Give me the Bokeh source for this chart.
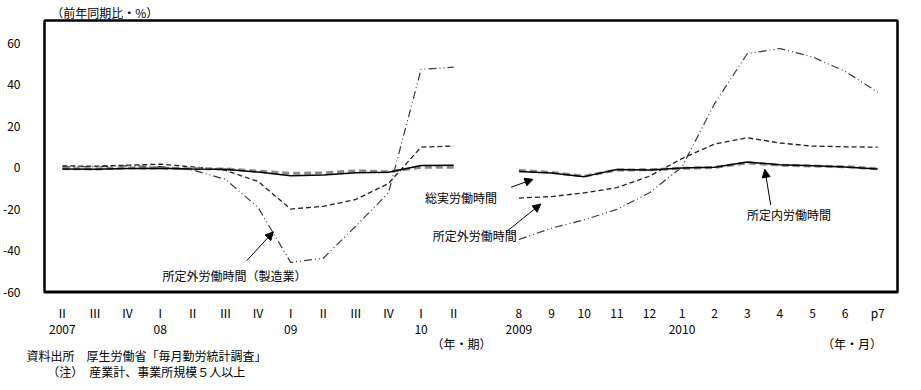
from bokeh.plotting import figure
from bokeh.models import (Range1d, FixedTicker, Label, Arrow, NormalHead, ColumnDataSource,
                          LinearAxis, Span)
from bokeh.embed import file_html
from bokeh.resources import INLINE

FONT = "Noto Sans CJK JP"

# ---- data ----
quarter_labels = ["Ⅱ", "Ⅲ", "Ⅳ", "Ⅰ", "Ⅱ", "Ⅲ", "Ⅳ", "Ⅰ", "Ⅱ", "Ⅲ", "Ⅳ", "Ⅰ", "Ⅱ"]
quarter_years = ["2007", "", "", "08", "", "", "", "09", "", "", "", "10", ""]
month_labels = ["8", "9", "10", "11", "12", "1", "2", "3", "4", "5", "6", "p7"]
month_years = ["2009", "", "", "", "", "2010", "", "", "", "", "", ""]

q_total = [-0.5, -0.7, -0.3, -0.2, -0.5, -0.6, -2.0, -3.8, -3.4, -2.3, -2.1, 1.2, 1.3]
q_sched = [-0.3, -0.5, 0.0, 0.0, -0.4, -0.5, -1.5, -2.6, -2.4, -1.4, -1.8, 0.3, 0.3]
q_over = [1.0, 0.8, 1.3, 1.8, 0.5, -1.2, -6.5, -19.8, -18.5, -15.2, -7.5, 10.0, 10.6]
q_mfg_over = [0.5, 0.6, 1.0, 0.6, -1.0, -5.5, -19.0, -45.5, -43.5, -28.0, -12.0, 47.5, 48.5]

m_total = [-1.7, -2.5, -4.2, -0.8, -1.0, 0.0, 0.3, 2.8, 1.5, 1.0, 0.5, -0.5]
m_sched = [-1.2, -2.2, -4.0, -1.0, -0.9, -0.2, 0.2, 2.4, 1.3, 0.9, 0.6, -0.4]
m_over = [-14.5, -13.8, -12.0, -9.5, -4.0, 4.5, 11.5, 14.5, 12.0, 10.5, 10.2, 10.0]
m_mfg_over = [-34.5, -29.0, -25.0, -20.0, -12.0, 0.5, 31.0, 55.0, 57.5, 53.5, 46.5, 36.5]

y_ticks = [-60, -40, -20, 0, 20, 40, 60]

y_title = "（前年同期比・%）"
unit_labels = ["（年・期）", "（年・月）"]
footer_lines = ["資料出所　厚生労働省「毎月勤労統計調査」", "（注）　産業計、事業所規模５人以上"]

# category positions (quarterly block, one-slot gap, monthly block)
q_x = list(range(len(quarter_labels)))
m_x = [len(quarter_labels) + 1 + i for i in range(len(month_labels))]

X0, X1, Y0, Y1 = -0.547, 25.607, -60, 71
p = figure(width=905, height=382, output_backend="svg", toolbar_location=None,
           x_range=Range1d(X0, X1), y_range=Range1d(Y0, Y1),
           x_axis_location=None,
           min_border_left=36, min_border_right=8, min_border_top=20, min_border_bottom=88)
p.background_fill_color = "white"
p.border_fill_color = "white"
p.outline_line_color = "black"
p.outline_line_width = 2
p.xgrid.visible = False
p.ygrid.visible = False

# bottom edge of the frame
p.add_layout(Span(location=Y0 + 0.45, dimension="width", line_color="black", line_width=2))

# y axis (its line is the left edge of the frame)
p.yaxis.ticker = FixedTicker(ticks=y_ticks)
p.yaxis.major_label_overrides = {t: str(t) for t in y_ticks}
p.yaxis.axis_line_color = "black"
p.yaxis.axis_line_width = 2
p.yaxis.major_tick_line_color = None
p.yaxis.minor_tick_line_color = None
p.yaxis.major_label_standoff = 18
p.yaxis.major_label_text_font = FONT
p.yaxis.major_label_text_font_size = "12px"
p.yaxis.major_label_text_color = "black"

def text_axis(side, ticks, labels, standoff, edge=False):
    ax = LinearAxis(ticker=FixedTicker(ticks=ticks),
                    major_label_overrides=dict(zip(ticks, labels)),
                    axis_line_color="black" if edge else None, axis_line_width=2,
                    major_tick_line_color=None, minor_tick_line_color=None,
                    major_tick_in=0, major_tick_out=0,
                    major_label_standoff=standoff, major_label_text_font=FONT,
                    major_label_text_font_size="12px", major_label_text_color="black")
    p.add_layout(ax, side)

# row 1: quarters / months
text_axis("below", q_x + m_x, quarter_labels + month_labels, 11)
# row 2: years
yr_ticks = [x for x, y in zip(q_x, quarter_years) if y] + [x for x, y in zip(m_x, month_years) if y]
yr_labels = [y for y in quarter_years if y] + [y for y in month_years if y]
text_axis("below", yr_ticks, yr_labels, 1)
# row 3: unit labels
text_axis("below", [12.24, 24.21], unit_labels, -2)
# footer lines
text_axis("below", [2.58], [footer_lines[0]], -8)
text_axis("below", [2.57], [footer_lines[1]], -4)
# y-axis title above the frame; its axis line is the top edge of the frame
text_axis("above", [1.3], [y_title], 0, edge=True)
# right edge of the frame
p.add_layout(LinearAxis(ticker=FixedTicker(ticks=[]), axis_line_color="black", axis_line_width=2,
                        major_tick_line_color=None, minor_tick_line_color=None,
                        major_tick_in=0, major_tick_out=0, major_label_standoff=0,
                        major_label_text_font_size="0px"), "right")

def draw(xs, total, sched, over, mfg):
    src = ColumnDataSource(dict(x=xs, total=total, sched=sched, over=over, mfg=mfg))
    p.line("x", "mfg", source=src, line_color="#3a3a3a", line_width=1.2, line_dash="8 3 1 3 1 3")
    p.line("x", "over", source=src, line_color="#222222", line_width=1.3, line_dash="5 3")
    p.line("x", "sched", source=src, line_color="#8a8a8a", line_width=3, line_dash="7 4")
    p.line("x", "total", source=src, line_color="black", line_width=1.5)

draw(q_x, q_total, q_sched, q_over, q_mfg_over)
draw(m_x, m_total, m_sched, m_over, m_mfg_over)

def lab(x, y, text):
    p.add_layout(Label(x=x, y=y, text=text, text_font=FONT, text_font_size="12px",
                       text_baseline="middle", text_align="left", text_color="black"))

lab(11.118, -14.1, "総実労働時間")
lab(11.361, -32.75, "所定外労働時間")
lab(20.99, -22.2, "所定内労働時間")
lab(3.068, -51.9, "所定外労働時間（製造業）")

def arrow(x0, y0, x1, y1):
    p.add_layout(Arrow(x_start=x0, y_start=y0, x_end=x1, y_end=y1,
                       line_color="black", line_width=1,
                       end=NormalHead(size=8, fill_color="black", line_color="black")))

arrow(13.76, -9.3, 14.43, -5.5)
arrow(13.61, -30.8, 14.67, -17.4)
arrow(21.72, -17.9, 21.54, -0.7)
arrow(5.65, -44.7, 6.47, -30.8)

open("out.html", "w").write(file_html(p, INLINE))
